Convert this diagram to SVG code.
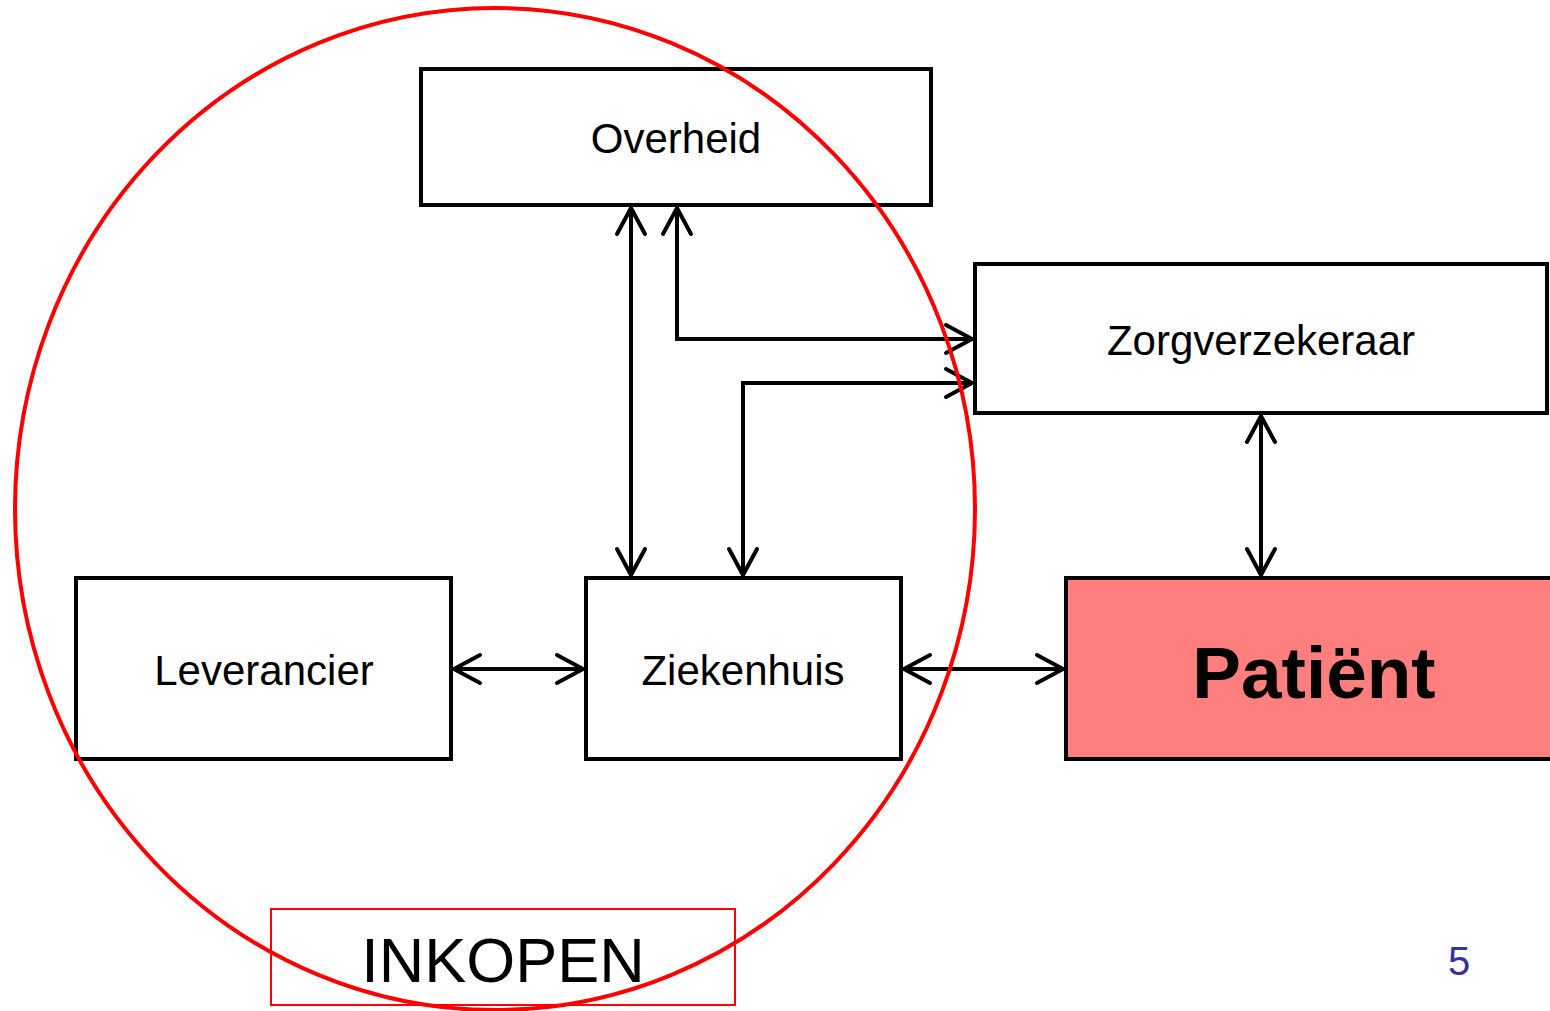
<svg xmlns="http://www.w3.org/2000/svg" width="1550" height="1011" viewBox="0 0 1550 1011">
<defs>
<style>
.box{fill:#fff;stroke:#000;stroke-width:4}
.lbl{font-family:"Liberation Sans",Arial,sans-serif;font-size:42px;text-anchor:middle;fill:#000}
.con{fill:none;stroke:#000;stroke-width:4;marker-start:url(#ah);marker-end:url(#ah)}
</style>
<marker id="ah" markerUnits="userSpaceOnUse" markerWidth="40" markerHeight="40" viewBox="-30 -20 40 40" refX="0" refY="0" orient="auto-start-reverse">
<path d="M-26,-14 L0,0 L-26,14" fill="none" stroke="#000" stroke-width="4" stroke-linecap="round" stroke-linejoin="miter"/>
</marker>
</defs>
<rect width="1550" height="1011" fill="#fff"/>
<g id="overheid"><rect class="box" x="421" y="69" width="510" height="136"/><text class="lbl" x="676" y="153">Overheid</text></g>
<g id="zorgverzekeraar"><rect class="box" x="975" y="264" width="572" height="149"/><text class="lbl" x="1261" y="355">Zorgverzekeraar</text></g>
<g id="leverancier"><rect class="box" x="76" y="578" width="375" height="181"/><text class="lbl" x="264" y="685">Leverancier</text></g>
<g id="ziekenhuis"><rect class="box" x="586" y="578" width="315" height="181"/><text class="lbl" x="743" y="685">Ziekenhuis</text></g>
<g id="patient"><rect x="1066" y="578" width="490" height="181" fill="#FF7F7F" stroke="#000" stroke-width="4"/><text x="1314" y="698" font-family="'Liberation Sans',Arial,sans-serif" font-size="73" font-weight="bold" text-anchor="middle" fill="#000">Patiënt</text></g>
<g id="connectors">
<path class="con" d="M631,208 L631,575"/>
<path class="con" d="M677,208 L677,339 L972,339"/>
<path class="con" d="M743,575 L743,383 L972,383"/>
<path class="con" d="M1261,416 L1261,575"/>
<path class="con" d="M454,669 L583,669"/>
<path class="con" d="M904,669 L1063,669"/>
</g>
<g id="inkopen">
<ellipse cx="495" cy="509" rx="480" ry="501" fill="none" stroke="#f00" stroke-width="4"/>
<rect x="271" y="909" width="464" height="96" fill="none" stroke="#f00" stroke-width="2"/>
<text x="503" y="982" font-family="'Liberation Sans',Arial,sans-serif" font-size="63" text-anchor="middle" fill="#000">INKOPEN</text>
</g>
<text id="page" x="1459" y="975" font-family="'Liberation Sans',Arial,sans-serif" font-size="40" text-anchor="middle" fill="#333399">5</text>
</svg>
